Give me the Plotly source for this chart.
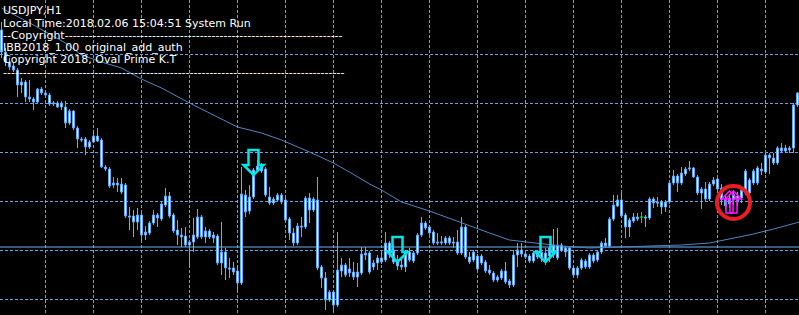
import plotly.graph_objects as go

W, H = 799, 315

# ---- candle data (USDJPY H1), index 0..199 ----
opens = [
    110.70, 110.48, 110.38, 110.34, 110.30, 110.15, 110.18, 110.03, 110.01, 109.98,
    110.11, 110.07, 110.05, 109.96, 109.97, 109.93, 109.93, 109.77, 109.89, 109.72,
    109.61, 109.61, 109.53, 109.58, 109.64, 109.60, 109.33, 109.31, 109.15, 109.17,
    109.08, 109.15, 108.84, 108.84, 108.78, 108.85, 108.65, 108.67, 108.77, 108.85,
    108.81, 108.95, 109.04, 108.85, 108.70, 108.65, 108.64, 108.55, 108.58, 108.63,
    108.83, 108.63, 108.69, 108.65, 108.64, 108.37, 108.48, 108.32, 108.32, 108.29,
    108.17, 109.05, 108.89, 109.03, 109.30, 109.33, 109.31, 109.03, 108.97, 109.00,
    109.05, 109.00, 108.81, 108.67, 108.57, 108.74, 108.73, 109.02, 108.90, 109.00,
    108.33, 108.22, 108.00, 108.08, 107.95, 108.29, 108.35, 108.31, 108.28, 108.23,
    108.27, 108.45, 108.47, 108.33, 108.37, 108.42, 108.40, 108.57, 108.50, 108.38,
    108.35, 108.33, 108.48, 108.39, 108.47, 108.65, 108.77, 108.73, 108.68, 108.58,
    108.57, 108.57, 108.62, 108.58, 108.58, 108.47, 108.73, 108.43, 108.40, 108.44,
    108.37, 108.38, 108.30, 108.27, 108.20, 108.22, 108.29, 108.19, 108.15, 108.45,
    108.50, 108.46, 108.44, 108.39, 108.47, 108.42, 108.47, 108.44, 108.45, 108.55,
    108.50, 108.52, 108.52, 108.32, 108.25, 108.32, 108.39, 108.33, 108.45, 108.40,
    108.48, 108.57, 108.54, 108.81, 108.94, 109.00, 108.85, 108.73, 108.79, 108.83,
    108.83, 108.83, 108.82, 109.01, 108.98, 108.98, 108.93, 108.98, 109.17, 109.24,
    109.17, 109.26, 109.31, 109.32, 109.23, 109.07, 109.11, 109.01, 109.16, 109.21,
    109.12, 109.01, 108.96, 109.00, 109.04, 109.02, 109.07, 109.20, 109.17, 109.32,
    109.29, 109.28, 109.45, 109.42, 109.37, 109.52, 109.49, 109.52, 109.52, 109.95,
]
highs = [
    110.78, 110.52, 110.42, 110.38, 110.32, 110.22, 110.20, 110.20, 110.03, 110.12,
    110.13, 110.09, 110.07, 109.99, 109.99, 109.99, 109.99, 109.91, 109.90, 109.74,
    109.63, 109.63, 109.60, 109.70, 109.72, 109.62, 109.35, 109.33, 109.23, 109.22,
    109.22, 109.17, 108.93, 108.90, 108.92, 108.87, 108.74, 108.79, 108.90, 108.87,
    108.98, 109.12, 109.08, 108.87, 108.80, 108.72, 108.73, 108.60, 108.82, 108.91,
    108.85, 108.73, 108.71, 108.68, 108.66, 108.78, 108.52, 108.42, 108.38, 108.35,
    109.33, 109.10, 109.15, 109.32, 109.40, 109.37, 109.33, 109.13, 109.03, 109.07,
    109.07, 109.02, 108.83, 108.72, 108.77, 108.83, 109.04, 109.07, 109.03, 109.23,
    108.35, 108.28, 108.10, 108.10, 108.68, 108.42, 108.37, 108.42, 108.38, 108.37,
    108.53, 108.53, 108.49, 108.40, 108.45, 108.48, 108.68, 108.59, 108.55, 108.45,
    108.42, 108.50, 108.52, 108.49, 108.67, 108.83, 108.79, 108.75, 108.70, 108.67,
    108.64, 108.64, 108.64, 108.63, 108.70, 108.83, 108.75, 108.48, 108.50, 108.46,
    108.46, 108.40, 108.35, 108.29, 108.25, 108.31, 108.38, 108.21, 108.50, 108.57,
    108.57, 108.50, 108.46, 108.49, 108.49, 108.50, 108.52, 108.54, 108.71, 108.72,
    108.57, 108.54, 108.54, 108.34, 108.34, 108.42, 108.41, 108.47, 108.47, 108.50,
    108.59, 108.62, 108.83, 109.05, 109.05, 109.08, 108.87, 108.82, 108.87, 108.87,
    108.88, 108.85, 109.03, 109.03, 109.03, 109.00, 109.00, 109.19, 109.30, 109.26,
    109.33, 109.33, 109.39, 109.33, 109.25, 109.13, 109.18, 109.18, 109.23, 109.23,
    109.16, 109.05, 109.06, 109.10, 109.08, 109.14, 109.31, 109.22, 109.31, 109.34,
    109.37, 109.47, 109.47, 109.47, 109.54, 109.57, 109.55, 109.54, 109.97, 110.08,
]
lows = [
    110.42, 110.34, 110.30, 110.28, 110.03, 110.07, 109.98, 109.98, 109.90, 109.97,
    110.05, 110.03, 109.94, 109.94, 109.92, 109.90, 109.72, 109.75, 109.70, 109.52,
    109.58, 109.45, 109.51, 109.57, 109.58, 109.32, 109.29, 109.12, 109.12, 109.08,
    109.06, 108.82, 108.70, 108.63, 108.70, 108.58, 108.60, 108.65, 108.75, 108.73,
    108.79, 108.93, 108.82, 108.67, 108.55, 108.53, 108.53, 108.33, 108.48, 108.61,
    108.61, 108.57, 108.61, 108.57, 108.35, 108.25, 108.20, 108.22, 108.25, 108.10,
    108.15, 108.83, 108.86, 109.01, 109.28, 109.27, 109.03, 108.95, 108.95, 108.98,
    108.96, 108.78, 108.60, 108.54, 108.55, 108.63, 108.71, 108.77, 108.88, 108.30,
    108.12, 107.90, 107.98, 107.88, 107.93, 108.23, 108.23, 108.23, 108.20, 108.13,
    108.25, 108.40, 108.26, 108.30, 108.30, 108.36, 108.38, 108.42, 108.36, 108.30,
    108.30, 108.28, 108.38, 108.37, 108.45, 108.63, 108.70, 108.65, 108.55, 108.55,
    108.55, 108.55, 108.55, 108.52, 108.45, 108.45, 108.41, 108.36, 108.38, 108.29,
    108.35, 108.27, 108.25, 108.18, 108.18, 108.20, 108.16, 108.12, 108.13, 108.33,
    108.43, 108.41, 108.37, 108.37, 108.41, 108.38, 108.35, 108.38, 108.42, 108.40,
    108.48, 108.43, 108.30, 108.22, 108.22, 108.30, 108.31, 108.31, 108.37, 108.38,
    108.46, 108.52, 108.52, 108.79, 108.93, 108.82, 108.62, 108.63, 108.77, 108.79,
    108.77, 108.73, 108.80, 108.92, 108.93, 108.86, 108.88, 108.96, 109.15, 109.08,
    109.15, 109.24, 109.29, 109.22, 109.05, 108.91, 108.98, 108.99, 109.14, 109.07,
    108.95, 108.90, 108.92, 108.95, 108.94, 108.97, 109.05, 109.05, 109.15, 109.15,
    109.25, 109.26, 109.26, 109.35, 109.35, 109.47, 109.47, 109.47, 109.47, 109.93,
]
closes = [
    110.48, 110.38, 110.33, 110.30, 110.15, 110.18, 110.03, 110.01, 109.98, 110.11,
    110.07, 110.05, 109.96, 109.97, 109.93, 109.97, 109.77, 109.89, 109.72, 109.61,
    109.60, 109.53, 109.58, 109.64, 109.59, 109.33, 109.31, 109.14, 109.17, 109.15,
    109.16, 108.84, 108.83, 108.78, 108.85, 108.65, 108.68, 108.77, 108.85, 108.82,
    108.96, 109.04, 108.84, 108.69, 108.65, 108.63, 108.55, 108.58, 108.65, 108.83,
    108.63, 108.69, 108.63, 108.62, 108.37, 108.48, 108.32, 108.31, 108.28, 108.17,
    109.06, 108.88, 109.03, 109.30, 109.34, 109.29, 109.05, 108.97, 109.01, 109.05,
    108.98, 108.80, 108.67, 108.57, 108.74, 108.73, 109.02, 108.90, 109.01, 108.32,
    108.22, 108.00, 108.08, 107.95, 108.30, 108.35, 108.25, 108.27, 108.23, 108.28,
    108.46, 108.47, 108.28, 108.37, 108.42, 108.38, 108.57, 108.47, 108.38, 108.34,
    108.33, 108.48, 108.40, 108.47, 108.65, 108.77, 108.72, 108.67, 108.57, 108.57,
    108.58, 108.62, 108.57, 108.57, 108.47, 108.73, 108.43, 108.38, 108.48, 108.31,
    108.44, 108.29, 108.27, 108.20, 108.23, 108.29, 108.18, 108.15, 108.45, 108.50,
    108.46, 108.43, 108.39, 108.47, 108.43, 108.48, 108.40, 108.52, 108.55, 108.42,
    108.55, 108.48, 108.32, 108.25, 108.32, 108.40, 108.33, 108.45, 108.39, 108.48,
    108.57, 108.54, 108.81, 108.95, 109.00, 108.84, 108.73, 108.80, 108.83, 108.81,
    108.83, 108.82, 109.01, 108.97, 108.97, 108.93, 108.98, 109.17, 109.24, 109.17,
    109.27, 109.31, 109.32, 109.23, 109.07, 109.11, 109.01, 109.16, 109.20, 109.11,
    109.00, 108.94, 109.02, 109.06, 108.98, 109.10, 109.29, 109.07, 109.29, 109.17,
    109.31, 109.45, 109.42, 109.37, 109.52, 109.49, 109.52, 109.50, 109.95, 110.07,
]
doji_index = 160          # drawn in line-chart (lime) colour, as MT4 does for open == close

# ---- moving average, read at selected bars ----
ma_idx = [0, 8, 16, 20, 25, 30, 35, 40, 47, 52, 59, 65, 70, 77, 83, 87, 92, 95, 100,
          107, 115, 122, 127, 133, 140, 147, 155, 165, 170, 177, 183, 188, 193, 199.5]
ma_val = [110.92, 110.75, 110.57, 110.45, 110.38, 110.32, 110.21, 110.12, 109.97, 109.87,
          109.73, 109.67, 109.60, 109.48, 109.37, 109.28, 109.16, 109.10, 108.98,
          108.89, 108.77, 108.67, 108.60, 108.57, 108.54, 108.52, 108.53, 108.54,
          108.55, 108.57, 108.62, 108.66, 108.71, 108.78]

bid_price = 108.53
grid_x = list(range(11, 200, 12))
grid_y = [110.46, 109.97, 109.48, 108.99, 108.50, 108.01]

# ---- signals ----
down_idx = [63, 99, 136]
down_top = [109.50, 108.63, 108.63]
up_idx = [182, 183]
up_tip = [109.09, 109.09]
circle_idx = 183
circle_price = 108.975

header_lines = [
    "USDJPY,H1",
    "Local Time:2018.02.06 15:04:51 System Run",
    "--Copyright" + "-" * 70,
    "IBB2018_1.00_original_add_auth",
    "Copyright 2018, Oval Prime K.T",
    "-" * 86,
]

# ---- axes ----
X0, X1 = -0.375, 199.375
Y0, Y1 = 107.85, 111.00
PX_X = W / (X1 - X0)
PX_Y = H / (Y1 - Y0)

CANDLE = "#5eabff"
CANDLE_FILL = "#eaf5ff"
GRID = "#5ea6ec"

idx = list(range(len(opens)))
main = [i for i in idx if i != doji_index]

fig = go.Figure()
fig.add_trace(go.Candlestick(
    x=main,
    open=[opens[i] for i in main], high=[highs[i] for i in main],
    low=[lows[i] for i in main], close=[closes[i] for i in main],
    increasing=dict(line=dict(color=CANDLE, width=1), fillcolor=CANDLE_FILL),
    decreasing=dict(line=dict(color=CANDLE, width=1), fillcolor=CANDLE_FILL),
    whiskerwidth=0, hoverinfo="skip", showlegend=False,
))
fig.add_trace(go.Candlestick(
    x=[doji_index],
    open=[opens[doji_index]], high=[highs[doji_index]],
    low=[lows[doji_index]], close=[closes[doji_index]],
    increasing=dict(line=dict(color="#00ee00", width=1), fillcolor="#00ee00"),
    decreasing=dict(line=dict(color="#00ee00", width=1), fillcolor="#00ee00"),
    whiskerwidth=0, hoverinfo="skip", showlegend=False,
))
fig.add_trace(go.Scatter(
    x=ma_idx, y=ma_val, mode="lines",
    line=dict(color="#4c86c6", width=1), hoverinfo="skip", showlegend=False,
))


def poly_path(ci, cp, pts):
    return "M" + " L".join(
        f"{ci + dx / PX_X:.4f},{cp - dy / PX_Y:.5f}" for dx, dy in pts) + " Z"


down_shape = [(-5, 0), (5, 0), (5, 15), (10, 15), (0, 25), (-10, 15), (-5, 15)]
up_shape = [(0, 0), (8, 8), (3.5, 8), (3.5, 22), (-3.5, 22), (-3.5, 8), (-8, 8)]

shapes = [dict(type="line", xref="paper", x0=0, x1=1, yref="y",
               y0=bid_price, y1=bid_price, line=dict(color="#6cb2f2", width=1),
               layer="below")]
for ci, cp in zip(down_idx, down_top):
    shapes.append(dict(type="path", xref="x", yref="y", path=poly_path(ci, cp, down_shape),
                       line=dict(color="#00e6e6", width=2.5)))
for ci, cp in zip(up_idx, up_tip):
    shapes.append(dict(type="path", xref="x", yref="y", path=poly_path(ci, cp, up_shape),
                       line=dict(color="#ff14ff", width=1.5)))
r = 16.5
shapes.append(dict(type="circle", xref="x", yref="y",
                   x0=circle_idx - r / PX_X, x1=circle_idx + r / PX_X,
                   y0=circle_price - r / PX_Y, y1=circle_price + r / PX_Y,
                   line=dict(color="#ec1c24", width=4)))

line_tops = [2, 15, 27, 39, 51, 64]
annotations = [dict(text=t, xref="paper", yref="paper", x=0, y=1, xanchor="left",
                    yanchor="top", xshift=1, yshift=-dy, showarrow=False,
                    font=dict(family="DejaVu Sans", size=11, color="white"))
               for t, dy in zip(header_lines, line_tops)]

axis_common = dict(showgrid=True, gridcolor=GRID, gridwidth=1, griddash="3px,2px",
                   showticklabels=False, ticks="", zeroline=False, showline=False,
                   fixedrange=True)
fig.update_layout(
    width=W, height=H, margin=dict(l=0, r=0, t=0, b=0),
    paper_bgcolor="black", plot_bgcolor="black",
    xaxis=dict(range=[X0, X1], tickvals=grid_x, rangeslider=dict(visible=False),
               **axis_common),
    yaxis=dict(range=[Y0, Y1], tickvals=grid_y, **axis_common),
    shapes=shapes, annotations=annotations, boxgap=0.3, showlegend=False,
)
fig.write_html("out.html")
